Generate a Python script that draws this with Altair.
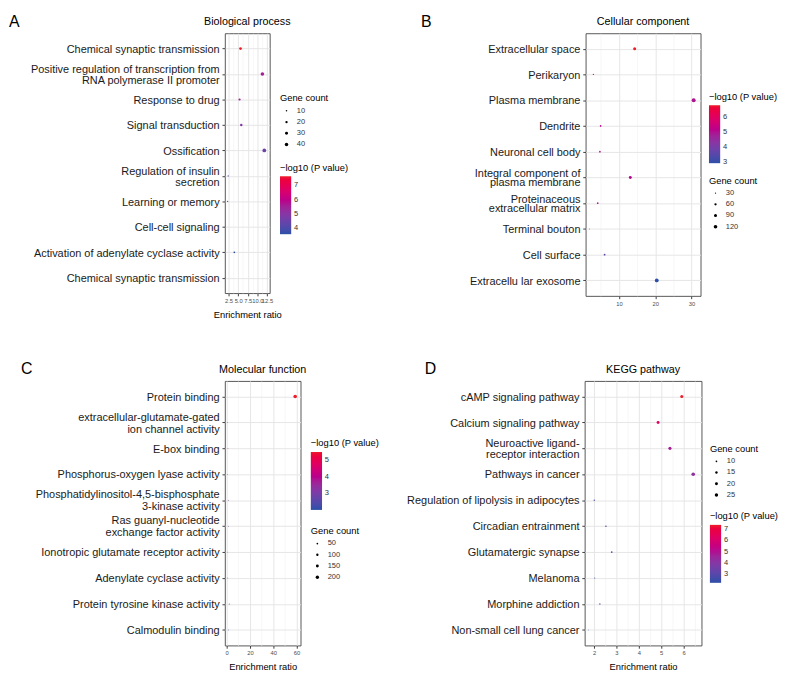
import altair as alt
import pandas as pd

FONT = "Liberation Sans"
COLOR_RANGE = ["#2c4fa7", "#a51c95", "#ee1d2b"]

# ---------------- Panel A: Biological process ----------------
a_terms = [
    "Chemical synaptic transmission",
    "Positive regulation of transcription from|RNA polymerase II promoter",
    "Response to drug",
    "Signal transduction",
    "Ossification",
    "Regulation of insulin|secretion",
    "Learning or memory",
    "Cell-cell signaling",
    "Activation of adenylate cyclase activity",
    "Chemical synaptic transmission",
]
a_ratio = [5.6, 11.3, 5.35, 5.8, 11.8, 2.4, 2.25, 1.65, 4.0, 1.65]
a_count = [25, 42, 18, 22, 46, 8, 8, 6, 12, 6]
a_logp = [7.65, 5.6, 5.5, 4.9, 4.5, 3.9, 3.9, 3.8, 3.6, 3.8]
a_xticks = [2.5, 5.0, 7.5, 10.0, 12.5]
a_xminor = [3.75, 6.25, 8.75, 11.25]

# ---------------- Panel B: Cellular component ----------------
b_terms = [
    "Extracellular space",
    "Perikaryon",
    "Plasma membrane",
    "Dendrite",
    "Neuronal cell body",
    "Integral component of|plasma membrane",
    "Proteinaceous|extracellular matrix",
    "Terminal bouton",
    "Cell surface",
    "Extracellu lar exosome",
]
b_ratio = [14.3, 2.9, 30.6, 4.9, 4.7, 13.1, 4.1, 1.8, 6.0, 20.4]
b_count = [90, 30, 140, 40, 40, 85, 40, 25, 45, 130]
b_logp = [6.8, 5.8, 5.0, 5.2, 5.0, 5.1, 4.8, 4.2, 3.7, 2.95]
b_xticks = [10, 20, 30]
b_xminor = [5, 15, 25]

# ---------------- Panel C: Molecular function ----------------
c_terms = [
    "Protein binding",
    "extracellular-glutamate-gated|ion channel activity",
    "E-box binding",
    "Phosphorus-oxygen lyase activity",
    "Phosphatidylinositol-4,5-bisphosphate|3-kinase activity",
    "Ras guanyl-nucleotide|exchange factor activity",
    "Ionotropic glutamate receptor activity",
    "Adenylate cyclase activity",
    "Protein tyrosine kinase activity",
    "Calmodulin binding",
]
c_ratio = [58.9, 0.6, 1.1, 0.6, 1.4, 1.6, 0.9, 0.9, 2.2, 1.6]
c_count = [235, 12, 15, 12, 15, 15, 12, 12, 18, 15]
c_logp = [5.5, 3.7, 3.8, 3.3, 3.2, 2.9, 3.0, 2.5, 2.3, 2.0]
c_xticks = [0, 20, 40, 60]
c_xminor = [10, 30, 50]

# ---------------- Panel D: KEGG pathway ----------------
d_terms = [
    "cAMP signaling pathway",
    "Calcium signaling pathway",
    "Neuroactive ligand-|receptor interaction",
    "Pathways in cancer",
    "Regulation of lipolysis in adipocytes",
    "Circadian entrainment",
    "Glutamatergic synapse",
    "Melanoma",
    "Morphine addiction",
    "Non-small cell lung cancer",
]
d_ratio = [5.92, 4.86, 5.39, 6.43, 2.01, 2.53, 2.79, 2.03, 2.26, 1.75]
d_count = [22, 20, 22, 28, 8, 9, 10, 7, 8, 6]
d_logp = [7.35, 6.3, 4.8, 4.2, 2.8, 2.9, 3.1, 2.27, 2.7, 2.6]
d_xticks = [2, 3, 4, 5, 6]
d_xminor = [2.5, 3.5, 4.5, 5.5, 6.5]


def make_panel(terms, ratio, count, logp, xticks, xminor, cfg):
    n = len(terms)
    keys = [f"{i:02d}" for i in range(n)]
    df = pd.DataFrame({"key": keys, "ratio": ratio, "count": count, "logp": logp})
    arr = "[" + ",".join(repr(t) for t in terms) + "]"
    label_expr = f"split({arr}[toNumber(datum.value)], '|')"
    multi = [k for k, t in zip(keys, terms) if "|" in t]
    multi_js = "[" + ",".join(repr(k) for k in multi) + "]"
    is_multi = f"indexof({multi_js}, datum.value) >= 0"
    majors_js = "[" + ",".join(str(v) for v in xticks) + "]"
    is_minor = f"indexof({majors_js}, datum.value) < 0"
    x_label_expr = f"{is_minor} ? '' : format(datum.value, '{cfg['fmt']}')"

    axis_kw = dict(
        values=xticks + xminor,
        labelExpr=x_label_expr,
        labelOverlap=False,
        labelFontSize=6.2,
        labelColor="#4d4d4d",
        labelPadding=2,
        tickSize=3,
        tickColor="#333333",
        tickOpacity={"condition": {"test": is_minor, "value": 0}, "value": 1},
        grid=True,
        gridColor={"condition": {"test": is_minor, "value": "#f1f1f1"}, "value": "#e4e4e4"},
        gridWidth={"condition": {"test": is_minor, "value": 0.6}, "value": 1},
        domain=False,
    )
    if cfg["xtitle"]:
        x_axis = alt.Axis(title=cfg["xtitle"], titleFontSize=10, titleFontWeight="normal",
                          titleColor="black", titlePadding=7, **axis_kw)
    else:
        x_axis = alt.Axis(title=None, **axis_kw)

    y_axis = alt.Axis(
        title=None,
        labelExpr=label_expr,
        labelFontSize=11.7,
        labelLineHeight=cfg["lh"],
        labelOffset={"condition": {"test": is_multi, "value": -cfg["lh"] / 2}, "value": 0},
        labelColor="#1a1a1a",
        labelLimit=400,
        labelPadding=3,
        tickSize=3,
        tickColor="#333333",
        grid=True,
        gridColor="#e4e4e4",
        domain=False,
    )

    points = alt.Chart(df).mark_circle(opacity=1).encode(
        x=alt.X("ratio:Q", scale=alt.Scale(domain=cfg["xdom"], nice=False, zero=False), axis=x_axis),
        y=alt.Y("key:O", sort=keys, scale=alt.Scale(type="point", padding=0.6), axis=y_axis),
        size=alt.Size(
            "count:Q",
            scale=alt.Scale(domain=cfg["sdom"], range=cfg["srange"], zero=False),
            legend=alt.Legend(
                title="Gene count",
                values=cfg["svals"],
                orient="none",
                legendX=cfg["sleg"][0],
                legendY=cfg["sleg"][1],
                symbolType="circle",
                symbolFillColor="black",
                symbolStrokeWidth=0,
                symbolOffset=3,
                labelOffset=7,
                rowPadding=4,
            ),
        ),
        color=alt.Color(
            "logp:Q",
            scale=alt.Scale(domain=cfg["cdom"], range=COLOR_RANGE),
            legend=alt.Legend(
                title="\u2212log10 (P value)",
                values=cfg["cvals"],
                orient="none",
                legendX=cfg["cleg"][0],
                legendY=cfg["cleg"][1],
                direction="vertical",
                gradientLength=62,
                gradientThickness=12,
                gradientStrokeWidth=0,
                labelOffset=3,
            ),
        ),
    )

    letter = alt.Chart(pd.DataFrame({"t": [cfg["letter"]]})).mark_text(
        align="left", baseline="alphabetic", fontSize=17, font=FONT, color="black"
    ).encode(text="t:N", x=alt.value(cfg["lx"]), y=alt.value(-7))

    title = alt.Chart(pd.DataFrame({"t": [cfg["title"]]})).mark_text(
        align="center", baseline="alphabetic", fontSize=11.5, font=FONT, color="black"
    ).encode(text="t:N", x=alt.value(cfg["w"] / 2), y=alt.value(-9))

    return alt.layer(points, letter, title).properties(width=cfg["w"], height=cfg["h"])


pA = make_panel(a_terms, a_ratio, a_count, a_logp, a_xticks, a_xminor, dict(
    title="Biological process", letter="A", lx=-231, w=48, h=278, lh=12,
    xdom=[1.52, 13.2], fmt=".1f", xtitle="Enrichment ratio",
    sdom=[6, 46], srange=[1.0, 16], svals=[10, 20, 30, 40], sleg=(59, 65),
    cdom=[3.6, 7.65], cvals=[4, 5, 6, 7], cleg=(59, 139),
))
pB = make_panel(b_terms, b_ratio, b_count, b_logp, b_xticks, b_xminor, dict(
    title="Cellular component", letter="B", lx=-176, w=123, h=281, lh=10,
    xdom=[0.75, 32.5], fmt="d", xtitle=None,
    sdom=[25, 140], srange=[1.0, 18], svals=[30, 60, 90, 120], sleg=(132, 153),
    cdom=[2.95, 6.8], cvals=[3, 4, 5, 6], cleg=(132, 63),
))
pC = make_panel(c_terms, c_ratio, c_count, c_logp, c_xticks, c_xminor, dict(
    title="Molecular function", letter="C", lx=-218, w=81, h=283, lh=13,
    xdom=[-1.6, 63.5], fmt="d", xtitle="Enrichment ratio",
    sdom=[12, 235], srange=[0.8, 15], svals=[50, 100, 150, 200], sleg=(92, 156),
    cdom=[2.0, 5.5], cvals=[3, 4, 5], cleg=(92, 62),
))
pD = make_panel(d_terms, d_ratio, d_count, d_logp, d_xticks, d_xminor, dict(
    title="KEGG pathway", letter="D", lx=-171, w=125, h=283, lh=12,
    xdom=[1.58, 6.8], fmt="d", xtitle="Enrichment ratio",
    sdom=[6, 28], srange=[0.8, 15], svals=[10, 15, 20, 25], sleg=(134, 68),
    cdom=[2.27, 7.35], cvals=[3, 4, 5, 6, 7], cleg=(134, 140),
))

row1 = alt.hconcat(pA, pB, spacing=75).resolve_scale(
    x="independent", y="independent", color="independent", size="independent")
row2 = alt.hconcat(pC, pD, spacing=26).resolve_scale(
    x="independent", y="independent", color="independent", size="independent")

chart = alt.vconcat(row1, row2, spacing=43).resolve_scale(
    x="independent", y="independent", color="independent", size="independent"
).properties(
    padding={"left": 0, "top": -19, "right": 0, "bottom": 0},
).configure_view(
    stroke="#4d4d4d", strokeWidth=1
).configure_axis(
    labelFont=FONT, titleFont=FONT
).configure_legend(
    titleFont=FONT, labelFont=FONT, titleFontSize=10, labelFontSize=8,
    titleFontWeight="normal", titleColor="black", labelColor="#333333",
    padding=0, titlePadding=4,
)

chart.save("out.html", embed_options={"renderer": "svg", "actions": False})
